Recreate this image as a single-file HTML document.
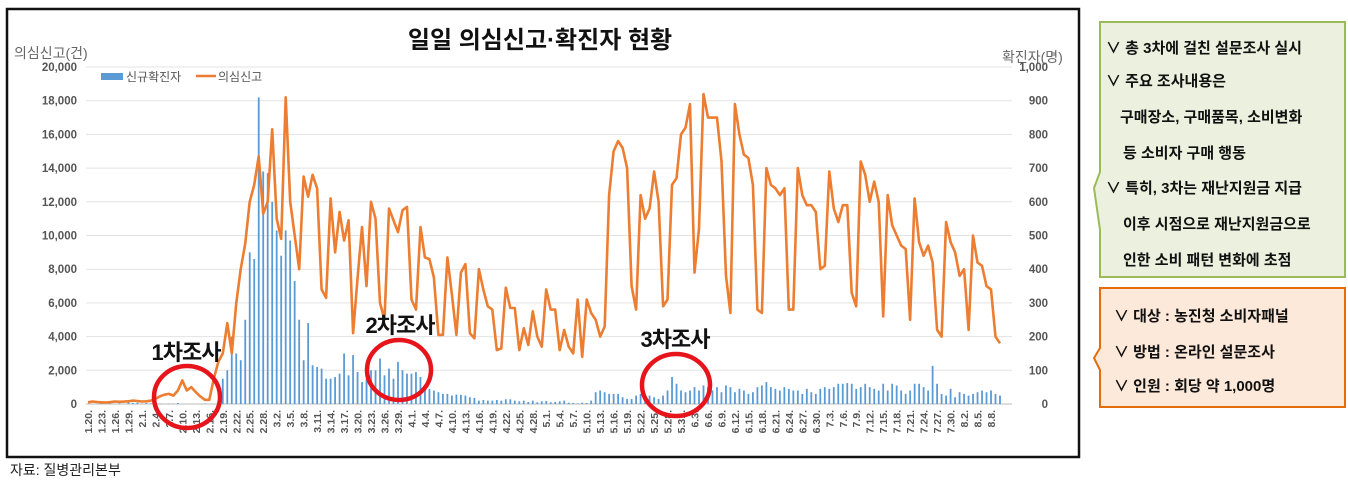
<!DOCTYPE html>
<html><head><meta charset="utf-8">
<style>
html,body{margin:0;padding:0;background:#fff;}
body{width:1348px;height:483px;position:relative;overflow:hidden;font-family:"Liberation Sans","Noto Sans CJK KR",sans-serif;}
.box{position:absolute;font-weight:bold;font-size:15px;color:#111;}
.box div{position:absolute;white-space:nowrap;}
</style></head>
<body>
<svg id="chart" width="1090" height="483" style="position:absolute;left:0;top:0" font-family="Liberation Sans, Noto Sans CJK KR, sans-serif">
  <rect x="7" y="9" width="1072" height="448" fill="#fff" stroke="#111" stroke-width="2.5"/>
  <text x="540" y="48" font-size="24" font-weight="bold" text-anchor="middle" fill="#111">일일 의심신고·확진자 현황</text>
  <text x="14" y="58" font-size="14" fill="#666">의심신고(건)</text>
  <text x="1002" y="62" font-size="14" fill="#666">확진자(명)</text>
  <g id="grid"></g><g id="bars"></g><g id="line"></g><g id="ticks"></g><g id="xlabels"></g>
  <g>
    <rect x="101" y="73" width="22" height="7" fill="#5b9bd5"/>
    <text x="126" y="81" font-size="12" fill="#555">신규확진자</text>
    <line x1="196" y1="76" x2="216" y2="76" stroke="#ed7d31" stroke-width="2.5"/>
    <text x="218" y="81" font-size="12" fill="#555">의심신고</text>
  </g>
  <g>
    <text x="186" y="360" font-size="22" font-weight="bold" text-anchor="middle" fill="#111" letter-spacing="-1">1차조사</text>
    <ellipse cx="187" cy="397" rx="33" ry="31" fill="none" stroke="#e8141c" stroke-width="4.5"/>
  </g>
  <g>
    <text x="400" y="333" font-size="22" font-weight="bold" text-anchor="middle" fill="#111" letter-spacing="-1">2차조사</text>
    <ellipse cx="399" cy="370" rx="32" ry="30" fill="none" stroke="#e8141c" stroke-width="4.5"/>
  </g>
  <g>
    <text x="675" y="347" font-size="22" font-weight="bold" text-anchor="middle" fill="#111" letter-spacing="-1">3차조사</text>
    <ellipse cx="676" cy="385" rx="34" ry="31" fill="none" stroke="#e8141c" stroke-width="4.5"/>
  </g>
</svg>
<div style="position:absolute;left:10px;top:460px;font-size:14px;color:#222">자료: 질병관리본부</div>

<svg width="260" height="420" style="position:absolute;left:1090px;top:0">
  <path d="M10,22 H255 V277 H10 V230 L4,188 L10,172 Z" fill="#ebf1de" stroke="#9bbb59" stroke-width="2"/>
  <path d="M10,288 H255 V407 H10 V370 L4,358 L10,348 Z" fill="#fde9d9" stroke="#e46c0a" stroke-width="2"/>
</svg>
<div class="box" style="left:1100px;top:22px;width:245px;height:256px;">
  <div style="left:6px;top:15px">∨ 총 3차에 걸친 설문조사 실시</div>
  <div style="left:6px;top:48px">∨ 주요 조사내용은</div>
  <div style="left:20px;top:84px">구매장소, 구매품목, 소비변화</div>
  <div style="left:23px;top:120px">등 소비자 구매 행동</div>
  <div style="left:6px;top:155px">∨ 특히, 3차는 재난지원금 지급</div>
  <div style="left:23px;top:191px">이후 시점으로 재난지원금으로</div>
  <div style="left:23px;top:227px">인한 소비 패턴 변화에 초점</div>
</div>
<div class="box" style="left:1100px;top:288px;width:245px;height:119px;">
  <div style="left:14px;top:17px">∨ 대상 : 농진청 소비자패널</div>
  <div style="left:14px;top:53px">∨ 방법 : 온라인 설문조사</div>
  <div style="left:14px;top:87px">∨ 인원 : 회당 약 1,000명</div>
</div>

<script>
const startDate = [2020, 0, 20];
const reports = [100,150,120,100,90,110,150,130,140,160,200,180,150,160,200,
300,450,550,600,500,800,1400,800,1000,700,450,250,250,1500,2500,3000,4800,3000,6000,8000,9500,12000,13000,14700,11300,12000,16300,11000,
9800,18200,12000,10000,8000,13500,12300,13600,12800,6800,6300,12200,9000,11400,9700,10900,4200,7500,10500,7000,12000,11000,6000,5000,11600,10900,10200,11500,11700,6200,5600,10500,8700,8600,7500,4100,4100,8700,6500,4100,7800,8300,4200,3900,8000,6800,5800,5600,3200,3300,6900,5700,5700,3200,
4500,3500,5500,4000,3400,6800,5600,5600,3200,4400,3400,3000,6200,2800,6200,5400,5000,4000,4600,12400,15000,15600,15200,14000,7000,5600,12400,11000,11600,13800,12000,5800,6200,13000,13400,16000,16400,17800,7800,10400,18400,17000,17000,17000,14400,7600,5400,17800,16000,14800,14600,13000,5600,5400,14000,13000,12800,12400,12800,5600,5600,14000,12400,11800,11800,11400,8000,8200,13800,11600,10800,11800,11800,6600,5800,14400,13600,12000,13200,12000,5200,12400,10600,10000,9400,9200,5000,12200,9600,8800,9400,8400,4400,4000,10800,9600,9000,7600,8000,4400,10000,8400,8200,7000,6800,4000,3600];
const confirmed = [0,0,0,1,0,1,0,2,0,4,3,4,1,3,2,4,1,0,1,1,3,0,0,0,0,0,1,0,0,1,
75,100,200,150,130,250,450,430,910,690,685,600,515,440,515,485,365,250,130,240,115,110,105,75,75,80,90,150,85,145,95,65,75,100,100,135,85,105,75,125,100,90,90,95,80,45,45,40,35,30,30,25,28,27,25,20,18,10,12,10,10,12,10,14,14,10,8,10,6,10,5,
8,9,5,6,8,10,4,3,2,4,3,10,
35,40,35,30,30,30,20,15,15,25,30,20,25,20,15,25,40,80,60,40,35,40,50,40,55,50,40,50,35,55,50,35,45,40,30,35,50,55,65,50,45,40,50,45,40,40,30,45,35,30,45,50,45,50,60,60,62,60,45,50,60,50,45,40,60,40,60,55,40,30,40,60,60,50,40,113,60,30,25,45,20,35,30,25,30,35,40,35,40,30,25];
const leftTicks = [0,2000,4000,6000,8000,10000,12000,14000,16000,18000,20000];
const rightTicks = [0,100,200,300,400,500,600,700,800,900,1000];

const NS = "http://www.w3.org/2000/svg";
const X0 = 88, X1 = 1000, Y0 = 404, Y1 = 67;
const n = Math.max(reports.length, confirmed.length);
function x(i){ return X0 + (X1 - X0) * i / (n - 1); }
function yL(v){ return Y0 - (Y0 - Y1) * v / 20000; }
function yR(v){ return Y0 - (Y0 - Y1) * v / 1000; }
function mk(tag, attrs, parent){ const e = document.createElementNS(NS, tag); for (const k in attrs) e.setAttribute(k, attrs[k]); parent.appendChild(e); return e; }
function fmt(v){ return v.toLocaleString('en-US'); }

const grid = document.getElementById('grid'), ticks = document.getElementById('ticks');
leftTicks.forEach((v, i) => {
  const g = mk('line', {x1: 86, x2: 1012, y1: yL(v), y2: yL(v), stroke: i === 0 ? '#bbb' : '#e3e3e3', 'stroke-width': 1}, grid);
  
  
  const t = mk('text', {x: 77, y: yL(v) + 4, 'font-size': 11.5, 'font-weight': 'bold', 'text-anchor': 'end', fill: '#555'}, ticks);
  t.textContent = fmt(v);
  
  
});
rightTicks.forEach(v => {
  const t = mk('text', {x: 1048, y: yR(v) + 4, 'font-size': 11.5, 'font-weight': 'bold', 'text-anchor': 'end', fill: '#555'}, ticks);
  t.textContent = fmt(v);
  
  
});

const bars = document.getElementById('bars');
confirmed.forEach((v, i) => {
  const b = mk('rect', {x: x(i) - 0.9, y: yR(v), width: 1.8, height: Math.max(0, Y0 - yR(v)), fill: '#5b9bd5'}, bars);
  
  
});

const line = document.getElementById('line');
const pts = reports.map((v, i) => x(i).toFixed(1) + ',' + yL(v).toFixed(1)).join(' ');
const pl = mk('polyline', {points: pts, fill: 'none', stroke: '#ed7d31', 'stroke-width': 2.6, 'stroke-linejoin': 'round'}, line);



const xl = document.getElementById('xlabels');
for (let i = 0; i < n; i += 3) {
  const d = new Date(startDate[0], startDate[1], startDate[2] + i);
  const label = (d.getMonth() + 1) + '.' + d.getDate() + '.';
  const t = mk('text', {x: 0, y: 0, 'font-size': 10.5, 'font-weight': 'bold', 'text-anchor': 'end', fill: '#555', transform: 'translate(' + (x(i) + 4) + ',410) rotate(-90)'}, xl);
  t.textContent = label;
  
  
}
</script>
</body></html>
